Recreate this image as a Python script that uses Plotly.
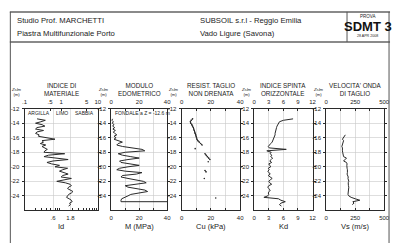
import math
import plotly.graph_objects as go

W, H = 397, 243
FONT = "Liberation Sans, Arial, sans-serif"
LINE = "#2a2a2a"
GRID = "#c8c8c8"

# ---------------- data ----------------
Z_ID = [-13.4, -13.6, -13.8, -14.0, -14.2, -14.4, -14.6, -14.8, -15.0, -15.2, -15.4, -15.6, -15.8, -16.0,
        -16.2, -16.4, -16.6, -16.8, -17.0, -17.2, -17.4, -17.6, -17.8, -18.0, -18.2, -18.4, -18.6, -18.8,
        -19.0, -19.2, -19.4, -19.6, -19.8, -20.0, -20.2, -20.4, -20.6, -20.8, -21.0, -21.2, -21.4, -21.6,
        -21.8, -22.0, -22.2, -22.4, -22.6, -22.8, -23.0, -23.2, -23.4, -23.6, -23.8, -24.0, -24.2, -24.4,
        -24.6, -24.8, -25.0, -25.2, -25.4]
ID = [0.22, 0.37, 0.28, 0.20, 0.30, 0.36, 0.22, 0.20, 0.33, 0.22, 0.20, 0.25, 0.24, 0.40,
      0.68, 0.30, 0.33, 0.27, 0.38, 0.30, 0.35, 0.42, 0.36, 0.34, 1.25, 0.45, 0.34, 0.90,
      1.55, 0.60, 0.41, 0.55, 0.90, 0.68, 1.50, 1.10, 0.90, 1.20, 1.55, 1.10, 1.00, 1.90,
      1.10, 0.76, 1.30, 1.75, 1.90, 1.60, 1.50, 1.75, 2.10, 1.90, 1.60, 1.50, 1.40, 1.65,
      1.90, 2.00, 1.70, 1.80, 1.60]

Z_M = [-13.4, -13.6, -13.8, -14.0, -14.2, -14.4, -14.6, -14.8, -15.0, -15.2, -15.4, -15.6, -15.8, -16.0,
       -16.2, -16.4, -16.6, -16.8, -17.0, -17.2, -17.4, -17.6, -17.8, -18.0, -18.2, -18.4, -18.6, -18.8,
       -19.0, -19.2, -19.4, -19.6, -19.8, -20.0, -20.2, -20.4, -20.6, -20.8, -21.0, -21.2, -21.4, -21.6,
       -21.8, -22.0, -22.2, -22.4, -22.6, -22.8, -23.0, -23.2, -23.4, -23.6, -23.8, -24.0, -24.2, -24.4,
       -24.6, -24.8, -24.8]
M = [1.0, 0.5, 1.5, 0.8, 2.0, 1.0, 2.5, 1.2, 3.0, 1.5, 2.5, 4.0, 2.0, 3.5,
     2.0, 5.0, 8.0, 5.0, 4.0, 8.0, 14.0, 22.0, 24.0, 10.0, 5.0, 8.0, 14.0, 20.0,
     12.0, 6.0, 7.0, 14.0, 20.0, 12.0, 6.0, 4.0, 10.0, 22.0, 18.0, 8.0, 7.0, 12.0,
     18.0, 23.0, 25.0, 18.0, 10.0, 12.0, 18.0, 24.0, 26.0, 20.0, 14.0, 12.0, 9.0, 7.5,
     7.0, 7.0, 40.0]

Z_CU = [-13.4, -13.6, -13.8, -14.0, -14.2, -14.4, -14.6, -14.8, -15.0, -15.2, -15.4, -15.6, -15.8, -16.0,
        -16.2, -16.4, -16.6, -16.8, -17.0, -17.2, -17.5, -17.8, -18.2, -18.4, -18.6, -18.8, -19.0,
        -19.1, -19.3, -19.6, -20.5, -20.7, -21.0, -21.6, -22.0, -24.3]
CU = [7.5, 6.5, 6.0, 6.3, 7.0, 7.5, 8.0, 8.3, 8.7, 9.0, 9.3, 9.7, 10.0, 10.2,
      10.5, 11.0, 12.0, 13.0, 14.0, None, 9.3, None, 16.0, 16.8, 17.6, 18.5, 19.3,
      None, 18.2, None, 16.0, 16.7, None, 15.5, None, 23.3]

Z_KD = [-13.4, -13.6, -13.8, -14.0, -14.2, -14.4, -14.6, -14.8, -15.0, -15.2, -15.4, -15.6, -15.8, -16.0,
        -16.2, -16.4, -16.6, -16.8, -17.0, -17.2, -17.4, -17.6, -17.8, -18.0, -18.2, -18.4, -18.6, -18.8,
        -19.0, -19.2, -19.4, -19.6, -19.8, -20.0, -20.2, -20.4, -20.6, -20.8, -21.0, -21.2, -21.4, -21.6,
        -21.8, -22.0, -22.2, -22.4, -22.6, -22.8, -23.0, -23.2, -23.4, -23.6, -23.8, -24.0, -24.2, -24.4,
        -24.6, -24.8, -25.0, -25.2, -25.4]
KD = [8.0, 6.0, 5.2, 5.0, 4.8, 4.7, 4.6, 4.5, 4.4, 4.4, 4.3, 4.3, 4.2, 4.1,
      4.0, 3.9, 3.7, 3.4, 3.2, 2.9, 3.1, 6.6, 2.6, 3.5, 3.3, 3.6, 3.4, 3.8,
      3.5, 3.2, 3.6, 3.0, 3.2, 3.4, 2.9, 3.1, 2.8, 3.0, 3.3, 2.9, 3.4, 3.7,
      3.3, 3.0, 3.2, 3.6, 3.0, 2.8, 3.0, 3.3, 3.1, 2.9, 3.0, 2.8, 2.0, 5.0,
      5.5, 6.4, 5.5, 5.2, 5.6]

Z_VS = [-15.6, -15.8, -16.0, -16.2, -16.4, -16.6, -16.8, -17.0, -17.2, -17.4, -17.6, -17.8, -18.0,
        -18.2, -18.4, -18.6, -18.8, -19.0, -19.2, -19.4, -19.6, -19.8, -20.0, -20.2, -20.4, -20.6,
        -20.8, -21.0, -21.2, -21.4, -21.6, -21.8, -22.0, -22.2, -22.4, -22.6, -22.8, -23.0, -23.2,
        -23.4, -23.6, -23.8, -24.0, -24.2, -24.4, -24.6, -24.8, -25.0, -25.2]
VS = [165, 155, 145, 140, 150, 145, 140, 138, 135, 140, 143, 140, 142,
      145, 142, 150, 175, 160, 150, 175, 180, 178, 182, 180, 183, 185,
      183, 180, 185, 190, 188, 192, 195, 190, 188, 192, 195, 193, 190,
      192, 190, 188, 195, 215, 250, 290, 230, 240, 225]

DEPTH_TICKS = [-24, -22, -20, -18, -16, -14, -12]
DEPTH_RANGE = [-26, -12]

PANEL_TITLES = ["INDICE DI<br>MATERIALE", "MODULO<br>EDOMETRICO", "RESIST. TAGLIO<br>NON DRENATA",
                "INDICE SPINTA<br>ORIZZONTALE", "VELOCITA' ONDA<br>DI TAGLIO"]
X_LABELS = ["Id", "M (MPa)", "Cu (kPa)", "Kd", "Vs (m/s)"]

# ---------------- layout helpers ----------------
def px_x(p):
    return p / W

def px_y(p):
    return 1 - p / H

domains = [(22, 97), (110.7, 168), (182.7, 242.7), (257, 316.7), (330.7, 390)]
ydom = [px_y(210), px_y(107)]

fig = go.Figure()

series = [(ID, Z_ID), (M, Z_M), (CU, Z_CU), (KD, Z_KD), (VS, Z_VS)]
for i, (xs, zs) in enumerate(series, start=1):
    fig.add_trace(go.Scatter(
        x=xs, y=zs, xaxis=f"x{i}", yaxis=f"y{i}",
        mode="lines+markers" if i == 3 else "lines",
        line=dict(color=LINE, width=1),
        marker=dict(size=1.6, color=LINE),
        showlegend=False, hoverinfo="skip", connectgaps=False))

tick_font = dict(family=FONT, size=6, color="#222")

bottom_specs = [
    dict(type="log", range=[-1, 1], tickvals=[0.6, 1.8], ticktext=[".6", "1.8"],
         ticks="", showgrid=True,
         minor=dict(tickvals=[0.2, 0.3, 0.4, 0.5, 0.7, 0.8, 0.9, 2, 3, 4, 5, 6, 7, 8, 9],
                    ticks="inside", ticklen=2, tickcolor=LINE, showgrid=False)),
    dict(range=[0, 40], tickvals=[0, 10, 20, 30, 40], ticktext=["0", "", "20", "", "40"]),
    dict(range=[0, 40], tickvals=[0, 10, 20, 30, 40], ticktext=["0", "", "20", "", "40"]),
    dict(range=[0, 12], tickvals=[0, 3, 6, 9, 12], ticktext=["0", "3", "6", "9", "12"]),
    dict(range=[0, 500], tickvals=[0, 125, 250, 375, 500], ticktext=["0", "", "250", "", "500"]),
]
top_specs = [
    dict(type="log", range=[-1, 1], tickvals=[0.1, 0.5, 1, 5, 10], ticktext=[".1", ".5", "1", "5", "10"]),
    dict(range=[0, 40], tickvals=[0, 10, 20, 30, 40], ticktext=["0", "", "20", "", "40"]),
    dict(range=[0, 40], tickvals=[0, 10, 20, 30, 40], ticktext=["0", "", "20", "", "40"]),
    dict(range=[0, 12], tickvals=[0, 3, 6, 9, 12], ticktext=["0", "3", "6", "9", "12"]),
    dict(range=[0, 500], tickvals=[0, 125, 250, 375, 500], ticktext=["0", "", "250", "", "500"]),
]

layout = dict(
    width=W, height=H, margin=dict(l=0, r=0, t=0, b=0),
    paper_bgcolor="white", plot_bgcolor="white", showlegend=False,
    font=dict(family=FONT, size=6, color="#222"),
)

for i in range(1, 6):
    d0, d1 = domains[i - 1]
    b = dict(domain=[px_x(d0), px_x(d1)], anchor=f"y{i}", side="bottom",
             showline=True, linecolor=LINE, linewidth=1, mirror=True,
             ticks="inside", ticklen=2, tickcolor=LINE, tickfont=tick_font,
             showgrid=True, gridcolor=GRID, gridwidth=0.6, zeroline=False,
             fixedrange=True, ticklabelstandoff=1)
    b.update(bottom_specs[i - 1])
    layout[f"xaxis{i}"] = b
    t = dict(overlaying=f"x{i}", anchor=f"y{i}", side="top",
             showline=True, linecolor=LINE, linewidth=1,
             ticks="inside", ticklen=2, tickcolor=LINE, tickfont=tick_font,
             showgrid=False, zeroline=False, fixedrange=True, ticklabelstandoff=1)
    t.update(top_specs[i - 1])
    layout[f"xaxis{i + 5}"] = t
    layout[f"yaxis{i}"] = dict(
        domain=ydom, anchor=f"x{i}", range=DEPTH_RANGE, tickvals=DEPTH_TICKS,
        ticktext=[str(v) for v in DEPTH_TICKS],
        showline=True, linecolor=LINE, linewidth=1, mirror="ticks",
        ticks="outside", ticklen=2, tickcolor=LINE, tickfont=tick_font,
        showgrid=True, gridcolor=GRID, gridwidth=0.6, zeroline=False, fixedrange=True,
        ticklabelstandoff=1)

fig.update_layout(**layout)

for i in range(1, 6):
    fig.add_trace(go.Scatter(x=[None], y=[None], xaxis=f"x{i + 5}", yaxis=f"y{i}",
                             mode="markers", showlegend=False, hoverinfo="skip"))

ann = []
for i in range(5):
    d0, d1 = domains[i]
    cx = px_x((d0 + d1) / 2)
    ann.append(dict(text=PANEL_TITLES[i], x=cx, y=px_y(87.5), xref="paper", yref="paper",
                    showarrow=False, font=dict(family=FONT, size=6.3, color="#222"),
                    xanchor="center", yanchor="middle"))
    ann.append(dict(text=X_LABELS[i], x=cx, y=px_y(226), xref="paper", yref="paper",
                    showarrow=False, font=dict(family=FONT, size=7.5, color="#222"),
                    xanchor="center", yanchor="middle"))
    ann.append(dict(text="<i>Zslm</i><br>(m)", x=px_x(d0 - 8), y=px_y(90.5), xref="paper", yref="paper",
                    showarrow=False, font=dict(family=FONT, size=4.2, color="#222"),
                    xanchor="center", yanchor="middle"))

for txt, xv in [("ARGILLA", 0.245), ("LIMO", 1.04), ("SABBIA", 4.24)]:
    ann.append(dict(text=txt, x=math.log10(xv), y=-12.65, xref="x1", yref="y1", showarrow=False,
                    font=dict(family=FONT, size=5, color="#222"), xanchor="center", yanchor="middle"))
ann.append(dict(text="FONDALE a Z = -12.6 m", x=1.5, y=-12.65, xref="x2", yref="y2", showarrow=False,
                font=dict(family=FONT, size=5, color="#222"), xanchor="left", yanchor="middle"))

hdr = dict(family=FONT, size=7.7, color="#222")
ann += [
    dict(text="Studio Prof. MARCHETTI", x=px_x(12), y=px_y(17.5), xref="paper", yref="paper",
         showarrow=False, font=hdr, xanchor="left", yanchor="middle"),
    dict(text="Piastra Multifunzionale Porto", x=px_x(12), y=px_y(31), xref="paper", yref="paper",
         showarrow=False, font=hdr, xanchor="left", yanchor="middle"),
    dict(text="SUBSOIL s.r.l - Reggio Emilia", x=px_x(200), y=px_y(17.5), xref="paper", yref="paper",
         showarrow=False, font=hdr, xanchor="left", yanchor="middle"),
    dict(text="Vado Ligure (Savona)", x=px_x(200), y=px_y(31), xref="paper", yref="paper",
         showarrow=False, font=hdr, xanchor="left", yanchor="middle"),
    dict(text="PROVA", x=px_x(373), y=px_y(13.5), xref="paper", yref="paper",
         showarrow=False, font=dict(family=FONT, size=4.5, color="#222"), xanchor="center", yanchor="middle"),
    dict(text="<b>SDMT 3</b>", x=px_x(373), y=px_y(24), xref="paper", yref="paper",
         showarrow=False, font=dict(family="Liberation Sans Narrow, Arial Narrow, Liberation Sans", size=13, color="#111"),
         xanchor="center", yanchor="middle"),
    dict(text="28 APR 2008", x=px_x(373), y=px_y(33.5), xref="paper", yref="paper",
         showarrow=False, font=dict(family=FONT, size=3.6, color="#222"), xanchor="center", yanchor="middle"),
]

shapes = [
    dict(type="line", xref="paper", yref="paper", x0=px_x(7), x1=px_x(396), y0=px_y(9), y1=px_y(9),
         line=dict(color="#8a8a8a", width=2)),
    dict(type="line", xref="paper", yref="paper", x0=px_x(7), x1=px_x(396), y0=px_y(39.5), y1=px_y(39.5),
         line=dict(color="#8a8a8a", width=2)),
    dict(type="line", xref="paper", yref="paper", x0=px_x(7.5), x1=px_x(7.5), y0=px_y(9), y1=0,
         line=dict(color="#555", width=1)),
    dict(type="line", xref="paper", yref="paper", x0=px_x(395), x1=px_x(395), y0=px_y(9), y1=0,
         line=dict(color="#555", width=1)),
    dict(type="line", xref="paper", yref="paper", x0=px_x(352), x1=px_x(352), y0=px_y(9), y1=px_y(39.5),
         line=dict(color="#555", width=1)),
]

fig.update_layout(annotations=ann, shapes=shapes)
fig.write_html(
    "out.html",
    config={"displayModeBar": False, "staticPlot": True},
    post_script="document.body.style.margin='0';document.body.style.padding='0';"
                "document.body.style.overflow='hidden';document.documentElement.style.overflow='hidden';",
)
